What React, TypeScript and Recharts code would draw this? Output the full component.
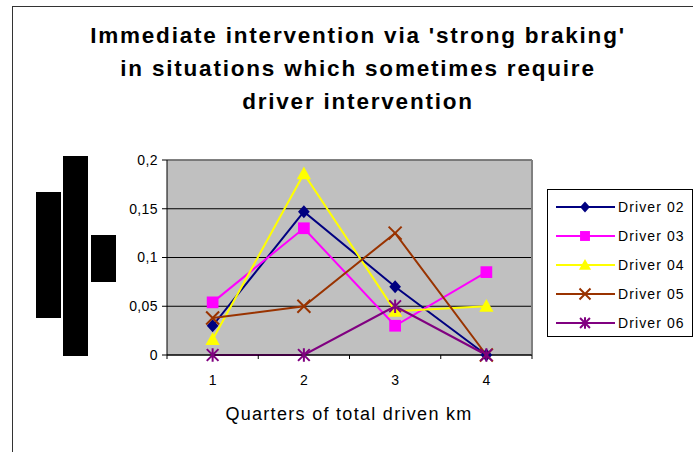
import React from 'react'
import {
  CartesianGrid,
  Line,
  LineChart,
  ReferenceLine,
  XAxis,
  YAxis,
} from 'recharts'

// quarters of total driven km
const quarters = [1, 2, 3, 4]
const driver02 = [0.03, 0.147, 0.07, 0]
const driver03 = [0.054, 0.13, 0.03, 0.085]
const driver04 = [0.016, 0.186, 0.045, 0.05]
const driver05 = [0.038, 0.05, 0.125, 0]
const driver06 = [0, 0, 0.05, 0]
const yTicks = [0, 0.05, 0.1, 0.15, 0.2]
const xTicks = [0.5, 1, 1.5, 2, 2.5, 3, 3.5, 4, 4.5]

const titleLines = [
  "Immediate intervention via 'strong braking'",
  'in situations which sometimes require',
  'driver intervention',
]
const xTitle = 'Quarters of total driven km'

type Shape = 'diamond' | 'square' | 'triangle' | 'cross' | 'star'

const series: { key: string; name: string; color: string; shape: Shape; values: number[] }[] = [
  { key: 'd02', name: 'Driver 02', color: '#000080', shape: 'diamond', values: driver02 },
  { key: 'd03', name: 'Driver 03', color: '#FF00FF', shape: 'square', values: driver03 },
  { key: 'd04', name: 'Driver 04', color: '#FFFF00', shape: 'triangle', values: driver04 },
  { key: 'd05', name: 'Driver 05', color: '#993300', shape: 'cross', values: driver05 },
  { key: 'd06', name: 'Driver 06', color: '#800080', shape: 'star', values: driver06 },
]

const rows = quarters.map((q, i) => {
  const r: Record<string, number> = { q }
  series.forEach((s) => (r[s.key] = s.values[i]))
  return r
})

const FONT = '"Liberation Sans", Arial, sans-serif'

// r = half size of the marker
function Marker({ cx, cy, shape, color, r = 6.5 }: { cx: number; cy: number; shape: Shape; color: string; r?: number }) {
  if (cx == null || cy == null) return null
  switch (shape) {
    case 'diamond':
      return <path d={`M${cx},${cy - r}L${cx + r * 0.9},${cy}L${cx},${cy + r}L${cx - r * 0.9},${cy}Z`} fill={color} />
    case 'square':
      return <rect x={cx - r * 0.9} y={cy - r * 0.9} width={r * 1.8} height={r * 1.8} fill={color} />
    case 'triangle':
      return <path d={`M${cx},${cy - r * 1.1}L${cx + r * 1.1},${cy + r * 0.85}L${cx - r * 1.1},${cy + r * 0.85}Z`} fill={color} />
    case 'cross':
      return (
        <path
          d={`M${cx - r},${cy - r}L${cx + r},${cy + r}M${cx + r},${cy - r}L${cx - r},${cy + r}`}
          stroke={color}
          strokeWidth={2}
        />
      )
    case 'star':
      return (
        <path
          d={`M${cx - r * 0.9},${cy - r * 0.9}L${cx + r * 0.9},${cy + r * 0.9}M${cx + r * 0.9},${cy - r * 0.9}L${cx - r * 0.9},${cy + r * 0.9}M${cx},${cy - r * 1.05}L${cx},${cy + r * 1.05}`}
          stroke={color}
          strokeWidth={2}
        />
      )
  }
  return null
}

const fmtY = (v: number) => String(v).replace('.', ',')

function XTick(props: any) {
  const { x, y, payload } = props
  const v = payload.value as number
  if (Number.isInteger(v)) {
    return (
      <text x={x} y={y + 22} textAnchor="middle" fontSize={14} fontFamily={FONT} fill="#000">
        {v}
      </text>
    )
  }
  return <line x1={x} x2={x} y1={y - 8} y2={y - 4} stroke="#000" strokeWidth={1} />
}

function LegendBox() {
  return (
    <div
      style={{
        position: 'absolute',
        left: 547,
        top: 189,
        width: 146,
        height: 148,
        border: '1px solid #000',
        background: '#fff',
        boxSizing: 'border-box',
        paddingTop: 2,
      }}
    >
      {series.map((s) => (
        <div key={s.key} style={{ display: 'flex', alignItems: 'center', height: 29 }}>
          <svg width={70} height={16} style={{ display: 'block' }}>
            <line x1={8} x2={67} y1={8} y2={8} stroke={s.color} strokeWidth={2} />
            <Marker cx={37} cy={8} shape={s.shape} color={s.color} r={5.5} />
          </svg>
          <span style={{ fontFamily: FONT, fontSize: 14, letterSpacing: 1.1, color: '#000' }}>{s.name}</span>
        </div>
      ))}
    </div>
  )
}

export default function App() {
  return (
    <div style={{ position: 'absolute', left: 0, top: 0, width: 693, height: 452, background: '#fff', overflow: 'hidden' }}>
      {/* chart frame */}
      <div
        style={{
          position: 'absolute',
          left: 12,
          top: 6,
          width: 720,
          height: 480,
          border: '1px solid #333',
          borderRightWidth: 0,
          borderBottomWidth: 0,
        }}
      />
      <div
        style={{
          position: 'absolute',
          left: 0,
          top: 19,
          width: 716,
          textAlign: 'center',
          fontFamily: FONT,
          fontWeight: 'bold',
          fontSize: 22.5,
          letterSpacing: 1.8,
          lineHeight: '33px',
          color: '#000',
        }}
      >
        {titleLines.map((t) => (
          <div key={t}>{t}</div>
        ))}
      </div>
      {/* redacted y axis title */}
      <div style={{ position: 'absolute', left: 36, top: 192, width: 25, height: 126, background: '#000' }} />
      <div style={{ position: 'absolute', left: 63, top: 156, width: 25, height: 200, background: '#000' }} />
      <div style={{ position: 'absolute', left: 91, top: 235, width: 25, height: 47, background: '#000' }} />
      <div style={{ position: 'absolute', left: 0, top: 0 }}>
        <LineChart width={693} height={452} data={rows} margin={{ top: 160, right: 161, bottom: 67, left: 107 }}>
          <CartesianGrid vertical={false} stroke="#000" fill="#C0C0C0" fillOpacity={1} />
          <XAxis
            dataKey="q"
            type="number"
            domain={[0.5, 4.5]}
            ticks={xTicks}
            interval={0}
            tick={<XTick />}
            tickLine={false}
            axisLine={{ stroke: '#000' }}
          />
          <YAxis
            type="number"
            domain={[0, 0.2]}
            ticks={yTicks}
            width={60}
            tickFormatter={fmtY}
            tick={{ fontSize: 14, fontFamily: FONT, fill: '#000', letterSpacing: 0.4 }}
            tickLine={{ stroke: '#000' }}
            tickSize={5}
            tickMargin={4}
            axisLine={{ stroke: '#000' }}
          />
          <ReferenceLine y={0.2} stroke="#808080" strokeWidth={1.5} />
          <ReferenceLine x={4.5} stroke="#808080" strokeWidth={2} />
          {series.map((s) => (
            <Line
              key={s.key}
              dataKey={s.key}
              name={s.name}
              stroke={s.color}
              strokeWidth={2}
              isAnimationActive={false}
              dot={(p: any) => <Marker key={`${s.key}-${p.index}`} cx={p.cx} cy={p.cy} shape={s.shape} color={s.color} />}
              activeDot={false}
            />
          ))}
        </LineChart>
      </div>
      <div
        style={{
          position: 'absolute',
          left: 200,
          top: 404,
          width: 298,
          textAlign: 'center',
          fontFamily: FONT,
          fontSize: 18,
          letterSpacing: 1.3,
          color: '#000',
        }}
      >
        {xTitle}
      </div>
      <LegendBox />
    </div>
  )
}
